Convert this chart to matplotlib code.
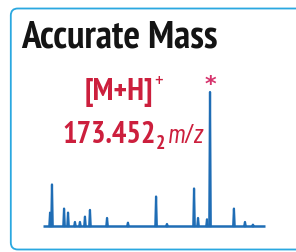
import matplotlib
matplotlib.use("Agg")
import matplotlib.pyplot as plt
from matplotlib.patches import FancyBboxPatch

# スペクトルのデータ (m/z, 相対強度 %)
peak_mz = [64.8, 66.1, 74.3, 77.0, 81.7, 85.1, 88.5, 91.9, 103.5, 117.7,
           136.8, 144.2, 162.6, 165.3, 171.4, 173.45, 189.7, 197.2, 202.6]
peak_int = [10, 31, 13, 10, 3, 3, 7, 12, 6, 2.5,
            22, 1.5, 28, 6, 5, 100, 13, 3, 1]
mz_range = [60.0, 210.8]
title = "Accurate Mass"
ion_label = "[M+H]"
mass_main = "173.452"
mass_sub = "2"
mass_unit = "m/z"

cond = ["PT Sans Narrow", "Fira Sans Extra Condensed", "Liberation Sans"]
cond_it = ["Barlow Condensed", "Fira Sans Extra Condensed", "Liberation Sans"]

red = "#cc1f3d"
blue = "#1f6db5"

fig = plt.figure(figsize=(2.96, 2.52), dpi=100)
fig.patch.set_facecolor("white")

# 背景 (ピクセル座標)
bg = fig.add_axes([0, 0, 1, 1])
bg.set_xlim(0, 296)
bg.set_ylim(252, 0)
bg.axis("off")
box = FancyBboxPatch((10.8, 8.5), 320, 241, boxstyle="round,pad=0,rounding_size=7",
                     fc="white", ec="#2aa8e0", lw=1.3)
bg.add_patch(box)

bg.text(21, 47.5, title, fontsize=28.3, fontweight="bold", family=cond,
        color="#141414", ha="left", va="baseline")

fig.canvas.draw()
r = fig.canvas.get_renderer()
inv = bg.transData.inverted()

def right_edge(t):
    bb = t.get_window_extent(r)
    return inv.transform((bb.x1, bb.y0))[0]

t1 = bg.text(85, 100, ion_label, fontsize=22.5, fontweight="bold", family=cond,
             color=red, ha="left", va="baseline")
x = right_edge(t1)
bg.text(x + 0.5, 87.5, "+", fontsize=15, family=cond, color=red, ha="left", va="baseline")

t2 = bg.text(62, 143, mass_main, fontsize=22, fontweight="bold", family=cond,
             color=red, ha="left", va="baseline")
x = right_edge(t2)
t3 = bg.text(x + 0.5, 149, mass_sub, fontsize=14, fontweight="bold", family=cond,
             color=red, ha="left", va="baseline")
x = right_edge(t3)
bg.text(x + 2.5, 143, mass_unit, fontsize=20, style="italic", family=cond_it,
        color=red, ha="left", va="baseline")

# スペクトル
ax = fig.add_axes([43 / 296, 26 / 252, 222 / 296, 134 / 252])
ax.set_xlim(mz_range)
ax.set_ylim(0, 100)
ax.axis("off")
ax.patch.set_alpha(0)
ax.plot(mz_range, [0, 0], color=blue, lw=1.8, clip_on=False, solid_capstyle="butt")
for m, h in zip(peak_mz, peak_int):
    ax.plot([m - 0.5, m, m + 0.5], [0, h, 0], color=blue, lw=1.6, clip_on=False)
top = peak_int.index(max(peak_int))
ax.text(peak_mz[top], 105.5, "*", fontsize=16, color="#d6336c", ha="center",
        va="center", fontweight="bold", clip_on=False)

plt.savefig("out.png", dpi=100)
plt.close()
